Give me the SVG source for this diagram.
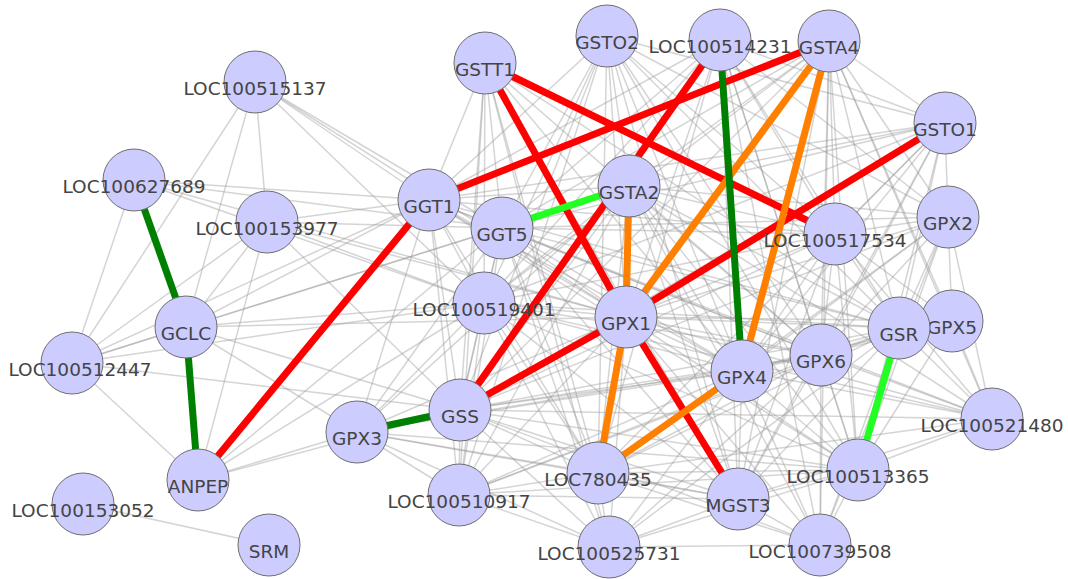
<svg xmlns="http://www.w3.org/2000/svg" width="1068" height="579" viewBox="0 0 1068 579">
<style>
.e{stroke:#999;stroke-opacity:0.42;stroke-width:1.5;fill:none}
.c{stroke-width:7;stroke-linecap:butt;fill:none}
.red{stroke:#ff0000}
.org{stroke:#ff8000}
.dg{stroke:#008000}
.lg{stroke:#22ff22}
.n circle{fill:#ccccff;stroke:#6e6e6e;stroke-width:1}
.n text{font-family:"DejaVu Sans","Liberation Sans",sans-serif;font-size:18.5px;fill:#444;text-anchor:middle}
</style>
<rect width="1068" height="579" fill="#ffffff"/>
<g id="connectors">
<g id="gray-edges">
<line class="e" x1="485" y1="63" x2="429" y2="200"/>
<line class="e" x1="485" y1="63" x2="502" y2="228"/>
<line class="e" x1="485" y1="63" x2="484" y2="303"/>
<line class="e" x1="485" y1="63" x2="460" y2="410"/>
<line class="e" x1="485" y1="63" x2="459" y2="495"/>
<line class="e" x1="485" y1="63" x2="598" y2="473"/>
<line class="e" x1="485" y1="63" x2="742" y2="371"/>
<line class="e" x1="485" y1="63" x2="821" y2="355"/>
<line class="e" x1="485" y1="63" x2="899" y2="328"/>
<line class="e" x1="485" y1="63" x2="738" y2="499"/>
<line class="e" x1="485" y1="63" x2="609" y2="547"/>
<line class="e" x1="607" y1="36" x2="429" y2="200"/>
<line class="e" x1="607" y1="36" x2="502" y2="228"/>
<line class="e" x1="607" y1="36" x2="484" y2="303"/>
<line class="e" x1="607" y1="36" x2="460" y2="410"/>
<line class="e" x1="607" y1="36" x2="626" y2="317"/>
<line class="e" x1="607" y1="36" x2="742" y2="371"/>
<line class="e" x1="607" y1="36" x2="821" y2="355"/>
<line class="e" x1="607" y1="36" x2="899" y2="328"/>
<line class="e" x1="607" y1="36" x2="835" y2="234"/>
<line class="e" x1="607" y1="36" x2="948" y2="217"/>
<line class="e" x1="607" y1="36" x2="945" y2="123"/>
<line class="e" x1="607" y1="36" x2="598" y2="473"/>
<line class="e" x1="607" y1="36" x2="738" y2="499"/>
<line class="e" x1="607" y1="36" x2="858" y2="470"/>
<line class="e" x1="607" y1="36" x2="629" y2="186"/>
<line class="e" x1="607" y1="36" x2="459" y2="495"/>
<line class="e" x1="720" y1="40" x2="429" y2="200"/>
<line class="e" x1="720" y1="40" x2="502" y2="228"/>
<line class="e" x1="720" y1="40" x2="484" y2="303"/>
<line class="e" x1="720" y1="40" x2="626" y2="317"/>
<line class="e" x1="720" y1="40" x2="821" y2="355"/>
<line class="e" x1="720" y1="40" x2="899" y2="328"/>
<line class="e" x1="720" y1="40" x2="948" y2="217"/>
<line class="e" x1="720" y1="40" x2="945" y2="123"/>
<line class="e" x1="720" y1="40" x2="835" y2="234"/>
<line class="e" x1="720" y1="40" x2="858" y2="470"/>
<line class="e" x1="720" y1="40" x2="738" y2="499"/>
<line class="e" x1="720" y1="40" x2="598" y2="473"/>
<line class="e" x1="720" y1="40" x2="820" y2="545"/>
<line class="e" x1="829" y1="41" x2="502" y2="228"/>
<line class="e" x1="829" y1="41" x2="484" y2="303"/>
<line class="e" x1="829" y1="41" x2="460" y2="410"/>
<line class="e" x1="829" y1="41" x2="835" y2="234"/>
<line class="e" x1="829" y1="41" x2="821" y2="355"/>
<line class="e" x1="829" y1="41" x2="899" y2="328"/>
<line class="e" x1="829" y1="41" x2="948" y2="217"/>
<line class="e" x1="829" y1="41" x2="945" y2="123"/>
<line class="e" x1="829" y1="41" x2="952" y2="321"/>
<line class="e" x1="829" y1="41" x2="858" y2="470"/>
<line class="e" x1="829" y1="41" x2="992" y2="419"/>
<line class="e" x1="829" y1="41" x2="738" y2="499"/>
<line class="e" x1="829" y1="41" x2="820" y2="545"/>
<line class="e" x1="829" y1="41" x2="629" y2="186"/>
<line class="e" x1="945" y1="123" x2="948" y2="217"/>
<line class="e" x1="945" y1="123" x2="835" y2="234"/>
<line class="e" x1="945" y1="123" x2="429" y2="200"/>
<line class="e" x1="945" y1="123" x2="502" y2="228"/>
<line class="e" x1="945" y1="123" x2="629" y2="186"/>
<line class="e" x1="945" y1="123" x2="484" y2="303"/>
<line class="e" x1="945" y1="123" x2="460" y2="410"/>
<line class="e" x1="945" y1="123" x2="742" y2="371"/>
<line class="e" x1="945" y1="123" x2="821" y2="355"/>
<line class="e" x1="945" y1="123" x2="899" y2="328"/>
<line class="e" x1="945" y1="123" x2="858" y2="470"/>
<line class="e" x1="945" y1="123" x2="598" y2="473"/>
<line class="e" x1="945" y1="123" x2="738" y2="499"/>
<line class="e" x1="948" y1="217" x2="952" y2="321"/>
<line class="e" x1="948" y1="217" x2="992" y2="419"/>
<line class="e" x1="948" y1="217" x2="835" y2="234"/>
<line class="e" x1="948" y1="217" x2="742" y2="371"/>
<line class="e" x1="948" y1="217" x2="821" y2="355"/>
<line class="e" x1="948" y1="217" x2="899" y2="328"/>
<line class="e" x1="948" y1="217" x2="626" y2="317"/>
<line class="e" x1="948" y1="217" x2="629" y2="186"/>
<line class="e" x1="948" y1="217" x2="502" y2="228"/>
<line class="e" x1="948" y1="217" x2="460" y2="410"/>
<line class="e" x1="948" y1="217" x2="858" y2="470"/>
<line class="e" x1="948" y1="217" x2="820" y2="545"/>
<line class="e" x1="948" y1="217" x2="598" y2="473"/>
<line class="e" x1="835" y1="234" x2="429" y2="200"/>
<line class="e" x1="835" y1="234" x2="502" y2="228"/>
<line class="e" x1="835" y1="234" x2="629" y2="186"/>
<line class="e" x1="835" y1="234" x2="484" y2="303"/>
<line class="e" x1="835" y1="234" x2="626" y2="317"/>
<line class="e" x1="835" y1="234" x2="460" y2="410"/>
<line class="e" x1="835" y1="234" x2="742" y2="371"/>
<line class="e" x1="835" y1="234" x2="821" y2="355"/>
<line class="e" x1="835" y1="234" x2="899" y2="328"/>
<line class="e" x1="835" y1="234" x2="952" y2="321"/>
<line class="e" x1="835" y1="234" x2="992" y2="419"/>
<line class="e" x1="835" y1="234" x2="858" y2="470"/>
<line class="e" x1="835" y1="234" x2="738" y2="499"/>
<line class="e" x1="429" y1="200" x2="502" y2="228"/>
<line class="e" x1="429" y1="200" x2="629" y2="186"/>
<line class="e" x1="429" y1="200" x2="484" y2="303"/>
<line class="e" x1="429" y1="200" x2="460" y2="410"/>
<line class="e" x1="429" y1="200" x2="357" y2="432"/>
<line class="e" x1="429" y1="200" x2="459" y2="495"/>
<line class="e" x1="429" y1="200" x2="598" y2="473"/>
<line class="e" x1="429" y1="200" x2="742" y2="371"/>
<line class="e" x1="429" y1="200" x2="626" y2="317"/>
<line class="e" x1="429" y1="200" x2="821" y2="355"/>
<line class="e" x1="429" y1="200" x2="899" y2="328"/>
<line class="e" x1="429" y1="200" x2="858" y2="470"/>
<line class="e" x1="502" y1="228" x2="484" y2="303"/>
<line class="e" x1="502" y1="228" x2="626" y2="317"/>
<line class="e" x1="502" y1="228" x2="460" y2="410"/>
<line class="e" x1="502" y1="228" x2="357" y2="432"/>
<line class="e" x1="502" y1="228" x2="459" y2="495"/>
<line class="e" x1="502" y1="228" x2="598" y2="473"/>
<line class="e" x1="502" y1="228" x2="609" y2="547"/>
<line class="e" x1="502" y1="228" x2="742" y2="371"/>
<line class="e" x1="502" y1="228" x2="821" y2="355"/>
<line class="e" x1="502" y1="228" x2="899" y2="328"/>
<line class="e" x1="502" y1="228" x2="992" y2="419"/>
<line class="e" x1="502" y1="228" x2="738" y2="499"/>
<line class="e" x1="629" y1="186" x2="484" y2="303"/>
<line class="e" x1="629" y1="186" x2="460" y2="410"/>
<line class="e" x1="629" y1="186" x2="357" y2="432"/>
<line class="e" x1="629" y1="186" x2="459" y2="495"/>
<line class="e" x1="629" y1="186" x2="598" y2="473"/>
<line class="e" x1="629" y1="186" x2="742" y2="371"/>
<line class="e" x1="629" y1="186" x2="821" y2="355"/>
<line class="e" x1="629" y1="186" x2="899" y2="328"/>
<line class="e" x1="629" y1="186" x2="858" y2="470"/>
<line class="e" x1="629" y1="186" x2="738" y2="499"/>
<line class="e" x1="629" y1="186" x2="820" y2="545"/>
<line class="e" x1="629" y1="186" x2="992" y2="419"/>
<line class="e" x1="484" y1="303" x2="626" y2="317"/>
<line class="e" x1="484" y1="303" x2="460" y2="410"/>
<line class="e" x1="484" y1="303" x2="357" y2="432"/>
<line class="e" x1="484" y1="303" x2="459" y2="495"/>
<line class="e" x1="484" y1="303" x2="598" y2="473"/>
<line class="e" x1="484" y1="303" x2="742" y2="371"/>
<line class="e" x1="484" y1="303" x2="821" y2="355"/>
<line class="e" x1="484" y1="303" x2="899" y2="328"/>
<line class="e" x1="484" y1="303" x2="738" y2="499"/>
<line class="e" x1="484" y1="303" x2="858" y2="470"/>
<line class="e" x1="484" y1="303" x2="992" y2="419"/>
<line class="e" x1="484" y1="303" x2="609" y2="547"/>
<line class="e" x1="626" y1="317" x2="357" y2="432"/>
<line class="e" x1="626" y1="317" x2="459" y2="495"/>
<line class="e" x1="626" y1="317" x2="609" y2="547"/>
<line class="e" x1="626" y1="317" x2="742" y2="371"/>
<line class="e" x1="626" y1="317" x2="821" y2="355"/>
<line class="e" x1="626" y1="317" x2="899" y2="328"/>
<line class="e" x1="626" y1="317" x2="952" y2="321"/>
<line class="e" x1="626" y1="317" x2="992" y2="419"/>
<line class="e" x1="626" y1="317" x2="858" y2="470"/>
<line class="e" x1="626" y1="317" x2="820" y2="545"/>
<line class="e" x1="460" y1="410" x2="459" y2="495"/>
<line class="e" x1="460" y1="410" x2="598" y2="473"/>
<line class="e" x1="460" y1="410" x2="609" y2="547"/>
<line class="e" x1="460" y1="410" x2="742" y2="371"/>
<line class="e" x1="460" y1="410" x2="821" y2="355"/>
<line class="e" x1="460" y1="410" x2="899" y2="328"/>
<line class="e" x1="460" y1="410" x2="992" y2="419"/>
<line class="e" x1="460" y1="410" x2="858" y2="470"/>
<line class="e" x1="460" y1="410" x2="738" y2="499"/>
<line class="e" x1="460" y1="410" x2="820" y2="545"/>
<line class="e" x1="357" y1="432" x2="459" y2="495"/>
<line class="e" x1="357" y1="432" x2="598" y2="473"/>
<line class="e" x1="357" y1="432" x2="609" y2="547"/>
<line class="e" x1="357" y1="432" x2="742" y2="371"/>
<line class="e" x1="357" y1="432" x2="821" y2="355"/>
<line class="e" x1="357" y1="432" x2="858" y2="470"/>
<line class="e" x1="357" y1="432" x2="738" y2="499"/>
<line class="e" x1="459" y1="495" x2="598" y2="473"/>
<line class="e" x1="459" y1="495" x2="609" y2="547"/>
<line class="e" x1="459" y1="495" x2="742" y2="371"/>
<line class="e" x1="459" y1="495" x2="821" y2="355"/>
<line class="e" x1="459" y1="495" x2="899" y2="328"/>
<line class="e" x1="459" y1="495" x2="738" y2="499"/>
<line class="e" x1="459" y1="495" x2="858" y2="470"/>
<line class="e" x1="598" y1="473" x2="609" y2="547"/>
<line class="e" x1="598" y1="473" x2="821" y2="355"/>
<line class="e" x1="598" y1="473" x2="899" y2="328"/>
<line class="e" x1="598" y1="473" x2="992" y2="419"/>
<line class="e" x1="598" y1="473" x2="858" y2="470"/>
<line class="e" x1="598" y1="473" x2="820" y2="545"/>
<line class="e" x1="598" y1="473" x2="738" y2="499"/>
<line class="e" x1="609" y1="547" x2="738" y2="499"/>
<line class="e" x1="609" y1="547" x2="742" y2="371"/>
<line class="e" x1="609" y1="547" x2="821" y2="355"/>
<line class="e" x1="609" y1="547" x2="858" y2="470"/>
<line class="e" x1="609" y1="547" x2="820" y2="545"/>
<line class="e" x1="609" y1="547" x2="899" y2="328"/>
<line class="e" x1="738" y1="499" x2="742" y2="371"/>
<line class="e" x1="738" y1="499" x2="821" y2="355"/>
<line class="e" x1="738" y1="499" x2="899" y2="328"/>
<line class="e" x1="738" y1="499" x2="858" y2="470"/>
<line class="e" x1="738" y1="499" x2="820" y2="545"/>
<line class="e" x1="738" y1="499" x2="992" y2="419"/>
<line class="e" x1="742" y1="371" x2="821" y2="355"/>
<line class="e" x1="742" y1="371" x2="899" y2="328"/>
<line class="e" x1="742" y1="371" x2="952" y2="321"/>
<line class="e" x1="742" y1="371" x2="992" y2="419"/>
<line class="e" x1="742" y1="371" x2="858" y2="470"/>
<line class="e" x1="742" y1="371" x2="820" y2="545"/>
<line class="e" x1="821" y1="355" x2="899" y2="328"/>
<line class="e" x1="821" y1="355" x2="952" y2="321"/>
<line class="e" x1="821" y1="355" x2="992" y2="419"/>
<line class="e" x1="821" y1="355" x2="858" y2="470"/>
<line class="e" x1="821" y1="355" x2="820" y2="545"/>
<line class="e" x1="899" y1="328" x2="952" y2="321"/>
<line class="e" x1="899" y1="328" x2="992" y2="419"/>
<line class="e" x1="899" y1="328" x2="820" y2="545"/>
<line class="e" x1="952" y1="321" x2="992" y2="419"/>
<line class="e" x1="952" y1="321" x2="858" y2="470"/>
<line class="e" x1="992" y1="419" x2="858" y2="470"/>
<line class="e" x1="858" y1="470" x2="820" y2="545"/>
<line class="e" x1="255" y1="82" x2="72" y2="363"/>
<line class="e" x1="255" y1="82" x2="186" y2="327"/>
<line class="e" x1="255" y1="82" x2="267" y2="222"/>
<line class="e" x1="255" y1="82" x2="429" y2="200"/>
<line class="e" x1="255" y1="82" x2="502" y2="228"/>
<line class="e" x1="255" y1="82" x2="484" y2="303"/>
<line class="e" x1="255" y1="82" x2="626" y2="317"/>
<line class="e" x1="134" y1="180" x2="72" y2="363"/>
<line class="e" x1="134" y1="180" x2="429" y2="200"/>
<line class="e" x1="134" y1="180" x2="502" y2="228"/>
<line class="e" x1="134" y1="180" x2="484" y2="303"/>
<line class="e" x1="134" y1="180" x2="626" y2="317"/>
<line class="e" x1="267" y1="222" x2="186" y2="327"/>
<line class="e" x1="267" y1="222" x2="72" y2="363"/>
<line class="e" x1="267" y1="222" x2="198" y2="480"/>
<line class="e" x1="267" y1="222" x2="429" y2="200"/>
<line class="e" x1="267" y1="222" x2="502" y2="228"/>
<line class="e" x1="267" y1="222" x2="484" y2="303"/>
<line class="e" x1="267" y1="222" x2="626" y2="317"/>
<line class="e" x1="267" y1="222" x2="460" y2="410"/>
<line class="e" x1="186" y1="327" x2="72" y2="363"/>
<line class="e" x1="186" y1="327" x2="429" y2="200"/>
<line class="e" x1="186" y1="327" x2="502" y2="228"/>
<line class="e" x1="186" y1="327" x2="484" y2="303"/>
<line class="e" x1="186" y1="327" x2="626" y2="317"/>
<line class="e" x1="186" y1="327" x2="460" y2="410"/>
<line class="e" x1="186" y1="327" x2="357" y2="432"/>
<line class="e" x1="72" y1="363" x2="429" y2="200"/>
<line class="e" x1="72" y1="363" x2="502" y2="228"/>
<line class="e" x1="72" y1="363" x2="484" y2="303"/>
<line class="e" x1="72" y1="363" x2="460" y2="410"/>
<line class="e" x1="72" y1="363" x2="198" y2="480"/>
<line class="e" x1="198" y1="480" x2="484" y2="303"/>
<line class="e" x1="198" y1="480" x2="460" y2="410"/>
<line class="e" x1="198" y1="480" x2="357" y2="432"/>
<line class="e" x1="198" y1="480" x2="502" y2="228"/>
<line class="e" x1="83" y1="504" x2="269" y2="545"/>
</g>
<g id="colored-edges">
<line class="c red" x1="485" y1="63" x2="626" y2="317"/>
<line class="c red" x1="485" y1="63" x2="835" y2="234"/>
<line class="c red" x1="429" y1="200" x2="829" y2="41"/>
<line class="c red" x1="720" y1="40" x2="460" y2="410"/>
<line class="c red" x1="945" y1="123" x2="626" y2="317"/>
<line class="c red" x1="626" y1="317" x2="460" y2="410"/>
<line class="c red" x1="626" y1="317" x2="738" y2="499"/>
<line class="c red" x1="429" y1="200" x2="198" y2="480"/>
<line class="c org" x1="829" y1="41" x2="626" y2="317"/>
<line class="c org" x1="829" y1="41" x2="742" y2="371"/>
<line class="c org" x1="629" y1="186" x2="626" y2="317"/>
<line class="c org" x1="626" y1="317" x2="598" y2="473"/>
<line class="c org" x1="742" y1="371" x2="598" y2="473"/>
<line class="c dg" x1="720" y1="40" x2="742" y2="371"/>
<line class="c dg" x1="134" y1="180" x2="186" y2="327"/>
<line class="c dg" x1="186" y1="327" x2="198" y2="480"/>
<line class="c dg" x1="357" y1="432" x2="460" y2="410"/>
<line class="c lg" x1="502" y1="228" x2="629" y2="186"/>
<line class="c lg" x1="899" y1="328" x2="858" y2="470"/>
</g>
</g>
<g id="LOC100515137" class="n"><circle cx="255" cy="82" r="31"/><text x="255" y="94.5">LOC100515137</text></g>
<g id="LOC100627689" class="n"><circle cx="134" cy="180" r="31"/><text x="134" y="192.5">LOC100627689</text></g>
<g id="LOC100153977" class="n"><circle cx="267" cy="222" r="31"/><text x="267" y="234.5">LOC100153977</text></g>
<g id="GCLC" class="n"><circle cx="186" cy="327" r="31"/><text x="186" y="339.5">GCLC</text></g>
<g id="LOC100512447" class="n"><circle cx="72" cy="363" r="31"/><text x="80" y="375.5">LOC100512447</text></g>
<g id="ANPEP" class="n"><circle cx="198" cy="480" r="31"/><text x="198" y="492.5">ANPEP</text></g>
<g id="LOC100153052" class="n"><circle cx="83" cy="504" r="31"/><text x="83" y="516.5">LOC100153052</text></g>
<g id="SRM" class="n"><circle cx="269" cy="545" r="31"/><text x="269" y="557.5">SRM</text></g>
<g id="GSTT1" class="n"><circle cx="485" cy="63" r="31"/><text x="485" y="75.5">GSTT1</text></g>
<g id="GSTO2" class="n"><circle cx="607" cy="36" r="31"/><text x="607" y="48.5">GSTO2</text></g>
<g id="LOC100514231" class="n"><circle cx="720" cy="40" r="31"/><text x="720" y="52.5">LOC100514231</text></g>
<g id="GSTA4" class="n"><circle cx="829" cy="41" r="31"/><text x="829" y="53.5">GSTA4</text></g>
<g id="GSTO1" class="n"><circle cx="945" cy="123" r="31"/><text x="945" y="135.5">GSTO1</text></g>
<g id="GPX2" class="n"><circle cx="948" cy="217" r="31"/><text x="948" y="229.5">GPX2</text></g>
<g id="LOC100517534" class="n"><circle cx="835" cy="234" r="31"/><text x="835" y="246.5">LOC100517534</text></g>
<g id="GGT1" class="n"><circle cx="429" cy="200" r="31"/><text x="429" y="212.5">GGT1</text></g>
<g id="GGT5" class="n"><circle cx="502" cy="228" r="31"/><text x="502" y="240.5">GGT5</text></g>
<g id="GSTA2" class="n"><circle cx="629" cy="186" r="31"/><text x="629" y="198.5">GSTA2</text></g>
<g id="LOC100519401" class="n"><circle cx="484" cy="303" r="31"/><text x="484" y="315.5">LOC100519401</text></g>
<g id="GPX1" class="n"><circle cx="626" cy="317" r="31"/><text x="626" y="329.5">GPX1</text></g>
<g id="GSS" class="n"><circle cx="460" cy="410" r="31"/><text x="460" y="422.5">GSS</text></g>
<g id="GPX3" class="n"><circle cx="357" cy="432" r="31"/><text x="357" y="444.5">GPX3</text></g>
<g id="LOC100510917" class="n"><circle cx="459" cy="495" r="31"/><text x="459" y="507.5">LOC100510917</text></g>
<g id="LOC780435" class="n"><circle cx="598" cy="473" r="31"/><text x="598" y="485.5">LOC780435</text></g>
<g id="LOC100525731" class="n"><circle cx="609" cy="547" r="31"/><text x="609" y="559.5">LOC100525731</text></g>
<g id="MGST3" class="n"><circle cx="738" cy="499" r="31"/><text x="738" y="511.5">MGST3</text></g>
<g id="GPX4" class="n"><circle cx="742" cy="371" r="31"/><text x="742" y="383.5">GPX4</text></g>
<g id="GPX6" class="n"><circle cx="821" cy="355" r="31"/><text x="821" y="367.5">GPX6</text></g>
<g id="GPX5" class="n"><circle cx="952" cy="321" r="31"/><text x="952" y="333.5">GPX5</text></g>
<g id="GSR" class="n"><circle cx="899" cy="328" r="31"/><text x="899" y="340.5">GSR</text></g>
<g id="LOC100521480" class="n"><circle cx="992" cy="419" r="31"/><text x="992" y="431.5">LOC100521480</text></g>
<g id="LOC100513365" class="n"><circle cx="858" cy="470" r="31"/><text x="858" y="482.5">LOC100513365</text></g>
<g id="LOC100739508" class="n"><circle cx="820" cy="545" r="31"/><text x="820" y="557.5">LOC100739508</text></g>
</svg>
